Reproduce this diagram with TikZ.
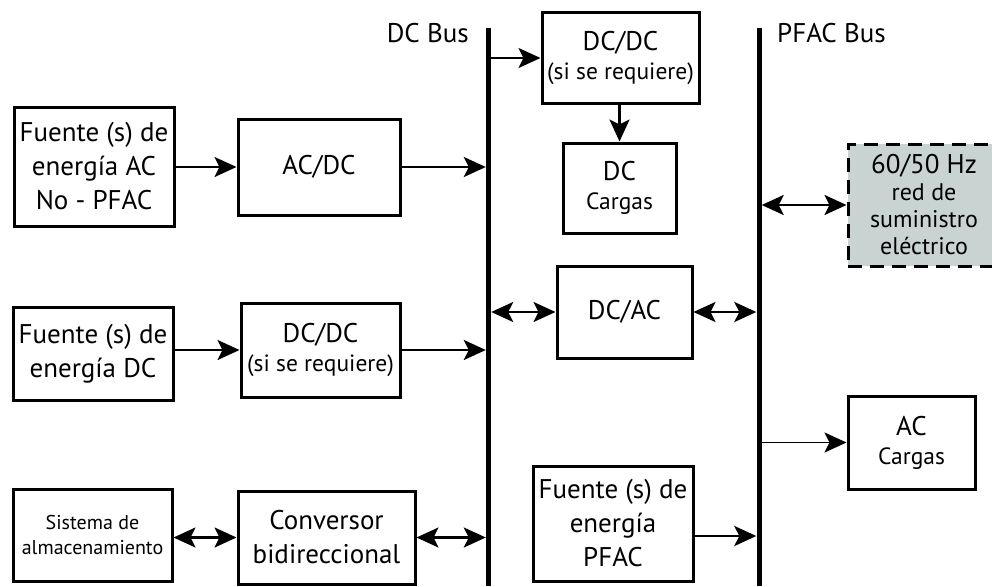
\documentclass[tikz,border=0pt]{standalone}
\usepackage{fontspec}
\setmainfont{PT Sans}
\usetikzlibrary{arrows.meta}
\definecolor{gridfill}{RGB}{201,211,210}
\newcommand\bigtxt{\fontsize{27}{34}\selectfont}
\newcommand\smtxt{\fontsize{23.5}{28}\selectfont}
\newcommand\gridtxt{\fontsize{24}{27}\selectfont}
\newcommand\tinytxt{\fontsize{20}{25}\selectfont}
\begin{document}
\begin{tikzpicture}[x=1pt,y=-1pt,
  blk/.style={draw, line width=3pt, inner sep=0pt, align=center, font=\bigtxt},
  bus/.style={fill=black, inner sep=0pt, minimum width=5pt, minimum height=558pt, anchor=north},
  tip/.tip={Stealth[length=22pt,width=20pt,inset=5pt]},
  arr/.style={line width=2.5pt, -tip},
  darr/.style={line width=2.5pt, tip-tip},
  thinarr/.style={line width=1.9pt, -tip},
  buslabel/.style={font=\bigtxt, inner sep=0pt}
]
\useasboundingbox (0,0) rectangle (992,586);

% buses
\node[bus] (dcbus) at (488.5,28) {};
\node[bus] (pfacbus) at (759,28) {};
\node[buslabel, anchor=base east] (dclabel) at (469,43) {DC Bus};
\node[buslabel, anchor=base west] (pflabel) at (777,43) {PFAC Bus};

% left column
\node[blk, minimum width=160pt, minimum height=119pt] (srcac) at (94,166.5)
  {Fuente (s) de\\energía AC\\No - PFAC};
\node[blk, minimum width=162pt, minimum height=96pt] (acdc) at (319,167) {AC/DC};
\node[blk, minimum width=160pt, minimum height=93pt] (srcdc) at (93,353.5)
  {Fuente (s) de\\energía DC};
\node[blk, minimum width=159pt, minimum height=94pt] (dcdcb) at (320.5,350)
  {DC/DC\\[-5pt]{\smtxt (si se requiere)}};
\node[blk, minimum width=159pt, minimum height=92pt, font=\tinytxt] (store) at (92.5,535)
  {Sistema de\\almacenamiento};
\node[blk, minimum width=177pt, minimum height=93pt] (conv) at (326.5,537.5)
  {Conversor\\bidireccional};

% middle column
\node[blk, minimum width=157pt, minimum height=90pt] (dcdca) at (620.5,58)
  {DC/DC\\[-5pt]{\smtxt (si se requiere)}};
\node[blk, minimum width=113pt, minimum height=90pt] (dcload) at (619.5,188)
  {DC\\[-5pt]{\smtxt Cargas}};
\node[blk, minimum width=135pt, minimum height=92pt] (dcac) at (624.5,312) {DC/AC};
\node[blk, minimum width=160pt, minimum height=115pt] (pfsrc) at (613,523.5)
  {Fuente (s) de\\energía\\PFAC};

% right column
\node[draw, dashed, dash pattern=on 14pt off 8pt, line width=3pt, fill=gridfill,
  inner sep=0pt, align=center, font=\gridtxt, minimum width=152pt, minimum height=122pt]
  (grid) at (924,205)
  {{\bigtxt 60/50 Hz}\\red de\\suministro\\eléctrico};
\node[blk, minimum width=127pt, minimum height=93pt] (acload) at (911.5,442.5)
  {AC\\[-5pt]{\smtxt Cargas}};

% connectors
\draw[arr] (srcac.east |- acdc.west) -- (acdc.west);
\draw[arr] (acdc.east) -- (acdc.east -| dcbus.west);
\draw[arr] (srcdc.east |- dcdcb.west) -- (dcdcb.west);
\draw[arr] (dcdcb.east) -- (dcdcb.east -| dcbus.west);
\draw[darr] (store.east |- conv.west) -- (conv.west);
\draw[darr] (conv.east) -- (conv.east -| dcbus.west);

\draw[thinarr] (dcdca.west -| dcbus.east) -- (dcdca.west);
\draw[arr] (dcdca.south -| dcload.north) -- (dcload.north);
\draw[darr] (dcac.west -| dcbus.east) -- (dcac.west);
\draw[darr] (dcac.east) -- (dcac.east -| pfacbus.west);
\coordinate (pfout) at ([yshift=-12.5pt]pfsrc.east);
\draw[arr] (pfout) -- (pfout -| pfacbus.west);

\draw[darr] (grid.west -| pfacbus.east) -- (grid.west);
\draw[thinarr] (acload.west -| pfacbus.east) -- (acload.west);
\end{tikzpicture}
\end{document}
